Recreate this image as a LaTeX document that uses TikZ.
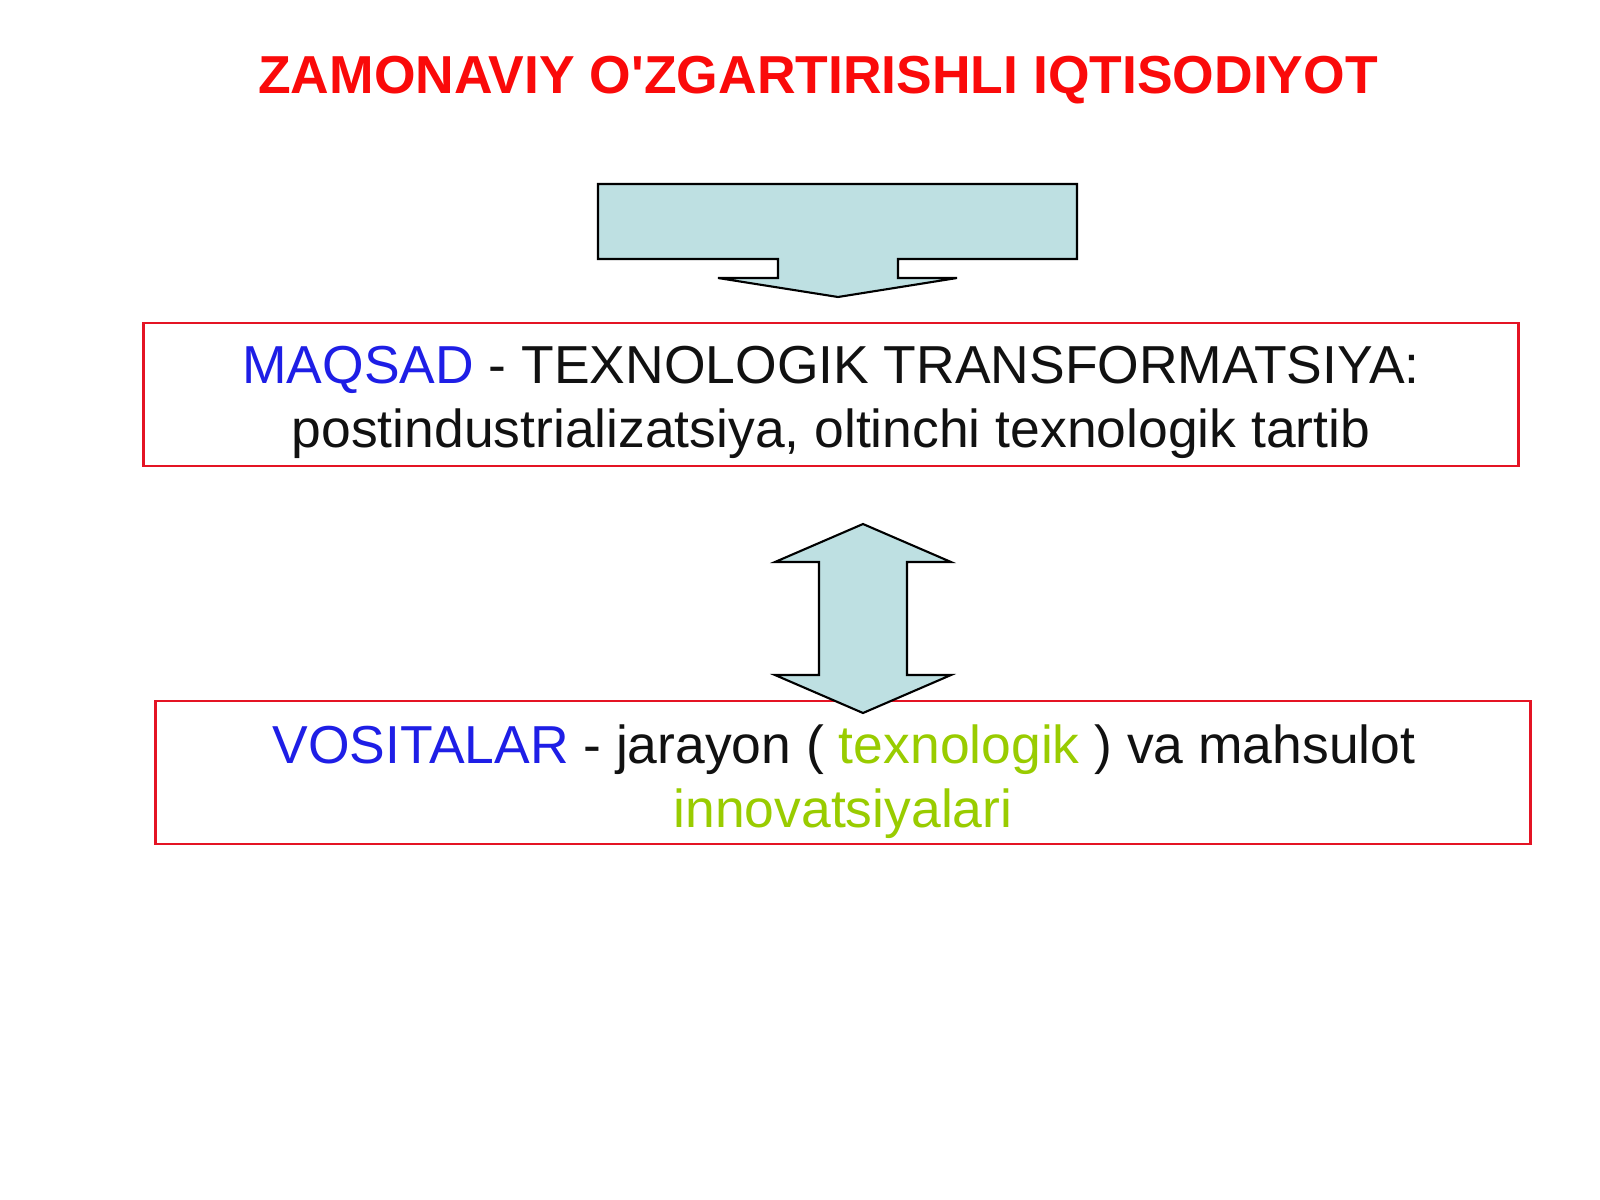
\documentclass[tikz,border=0pt]{standalone}
\usepackage{fontspec}
\setmainfont{Liberation Sans}[Ligatures=TeXOff]
\definecolor{boxred}{RGB}{228,20,36}
\definecolor{titlered}{RGB}{250,10,10}
\definecolor{kblue}{RGB}{30,30,230}
\definecolor{kgreen}{RGB}{153,204,0}
\definecolor{ktext}{RGB}{17,17,17}
\definecolor{arrowfill}{RGB}{190,224,226}
\begin{document}
\begin{tikzpicture}[x=0.01cm,y=-0.01cm,
  redbox/.style={draw=boxred,line width=0.8pt,fill=white,inner sep=0pt},
  txt/.style={inner sep=0pt,anchor=base,text=ktext,font=\fontsize{15.2pt}{18pt}\selectfont},
  bigarrow/.style={draw=black,line width=0.6pt,fill=arrowfill,line join=miter}]
\useasboundingbox[fill=white] (0,0) rectangle (1600,1200);
% title
\node[txt,font=\fontsize{15.2pt}{18pt}\selectfont\bfseries,text=titlered] (title) at (818,93) {ZAMONAVIY O'ZGARTIRISHLI IQTISODIYOT};
% top arrow
\draw[bigarrow] (598,184) -- (1077,184) -- (1077,259) -- (898,259) -- (898,278) -- (957,278)
  -- (838,297) -- (718,278) -- (778,278) -- (778,259) -- (598,259) -- cycle;
% boxes
\node[redbox,minimum width=13.74cm,minimum height=1.43cm] (goal) at (831,394.5) {};
\node[redbox,minimum width=13.74cm,minimum height=1.43cm] (means) at (843,772.5) {};
% texts
\node[txt] (goal1) at (831,383) {\textcolor{kblue}{MAQSAD} - TEXNOLOGIK TRANSFORMATSIYA:};
\node[txt] (goal2) at (831,447) {postindustrializatsiya, oltinchi texnologik tartib};
\node[txt] (means1) at (844,763) {\textcolor{kblue}{VOSITALAR} - jarayon ( \textcolor{kgreen}{texnologik} ) va mahsulot};
\node[txt,text=kgreen] (means2) at (843,827) {innovatsiyalari};
% double arrow
\draw[bigarrow] (863,524) -- (951,562) -- (907,562) -- (907,675) -- (951,675) -- (863,713)
  -- (775,675) -- (819,675) -- (819,562) -- (775,562) -- cycle;
\end{tikzpicture}
\end{document}
